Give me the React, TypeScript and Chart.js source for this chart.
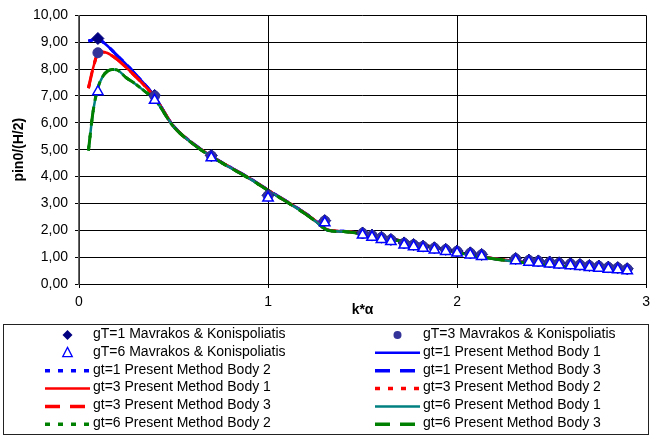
import React, { useEffect, useRef } from 'react';
import { Chart, registerables } from 'chart.js';

Chart.register(...registerables);

// ---- data ----
const MARKER_X = [0.1, 0.4, 0.7, 1.0, 1.3, 1.5, 1.55, 1.6, 1.65, 1.72, 1.77, 1.82, 1.88, 1.94, 2.0, 2.07, 2.13, 2.31, 2.38, 2.43, 2.49, 2.54, 2.6, 2.65, 2.7, 2.75, 2.8, 2.85, 2.9];
const GT1_MK = [9.14, 7.02, 4.78, 3.3, 2.36, 1.9, 1.82, 1.74, 1.66, 1.53, 1.47, 1.41, 1.35, 1.29, 1.23, 1.16, 1.1, 0.95, 0.89, 0.86, 0.82, 0.79, 0.76, 0.73, 0.69, 0.67, 0.63, 0.61, 0.57];
const GT3_MK = [8.61, 7.0, 4.77, 3.29, 2.35, 1.89, 1.81, 1.73, 1.65, 1.52, 1.46, 1.4, 1.34, 1.28, 1.22, 1.15, 1.09, 0.94, 0.88, 0.85, 0.81, 0.78, 0.75, 0.72, 0.68, 0.66, 0.62, 0.6, 0.56];
const GT6_MK = [7.16, 6.84, 4.7, 3.2, 2.28, 1.82, 1.74, 1.66, 1.58, 1.45, 1.39, 1.33, 1.27, 1.21, 1.15, 1.08, 1.02, 0.87, 0.81, 0.78, 0.74, 0.71, 0.68, 0.65, 0.61, 0.59, 0.55, 0.53, 0.49];

const LINE_X = [0.05, 0.075, 0.1, 0.125, 0.15, 0.175, 0.2, 0.25, 0.3, 0.35, 0.4, 0.5, 0.6, 0.7, 0.8, 0.9, 1.0, 1.1, 1.2, 1.25, 1.32, 1.4, 1.5, 1.6, 1.7, 1.8, 1.9, 2.0, 2.1, 2.2, 2.3, 2.4, 2.5, 2.6, 2.7, 2.8, 2.9];
const GT1_LINE = [9.04, 9.1, 9.15, 9.02, 8.87, 8.7, 8.52, 8.18, 7.8, 7.42, 6.98, 5.88, 5.25, 4.76, 4.35, 3.95, 3.5, 3.07, 2.62, 2.36, 2.0, 1.96, 1.87, 1.75, 1.61, 1.48, 1.34, 1.19, 1.05, 0.94, 0.85, 0.77, 0.7, 0.64, 0.58, 0.53, 0.48];
const GT3_LINE = [7.29, 8.05, 8.58, 8.64, 8.6, 8.5, 8.37, 8.06, 7.72, 7.36, 6.96, 5.87, 5.24, 4.75, 4.34, 3.94, 3.49, 3.06, 2.61, 2.35, 2.0, 1.96, 1.87, 1.75, 1.61, 1.48, 1.34, 1.19, 1.05, 0.94, 0.85, 0.77, 0.7, 0.64, 0.58, 0.53, 0.48];
const GT6_LINE = [4.97, 6.45, 7.3, 7.72, 7.92, 7.99, 7.97, 7.68, 7.44, 7.16, 6.88, 5.86, 5.23, 4.74, 4.33, 3.93, 3.48, 3.05, 2.6, 2.34, 1.99, 1.95, 1.86, 1.74, 1.6, 1.47, 1.33, 1.18, 1.04, 0.93, 0.84, 0.76, 0.69, 0.63, 0.57, 0.52, 0.47];

const X_TICKS = [0, 1, 2, 3];
const Y_TICKS = [0, 1, 2, 3, 4, 5, 6, 7, 8, 9, 10];

const LABELS = [
  'gT=1 Mavrakos & Konispoliatis',
  'gT=3 Mavrakos & Konispoliatis',
  'gT=6 Mavrakos & Konispoliatis',
  'gt=1 Present Method Body 1',
  'gt=1 Present Method Body 2',
  'gt=1 Present Method Body 3',
  'gt=3 Present Method Body 1',
  'gt=3 Present Method Body 2',
  'gt=3 Present Method Body 3',
  'gt=6 Present Method Body 1',
  'gt=6 Present Method Body 2',
  'gt=6 Present Method Body 3',
];

const FONT = '"Liberation Sans", Arial, sans-serif';
const DOT = [5, 8];
const DASH = [15, 10];

const pts = (xs: number[], ys: number[]) => xs.map((x, i) => ({ x, y: ys[i] }));

function markerDs(label: string, ys: number[], style: string, r: number, bg: string, bc: string, bw: number, order: number) {
  return {
    label,
    data: pts(MARKER_X, ys),
    showLine: false,
    pointStyle: style,
    pointRadius: r,
    pointBackgroundColor: bg,
    pointBorderColor: bc,
    pointBorderWidth: bw,
    backgroundColor: bg,
    borderColor: bc,
    order,
  };
}

function lineDs(label: string, ys: number[], color: string, dash: number[], width: number, order: number) {
  return {
    label,
    data: pts(LINE_X, ys),
    showLine: true,
    pointRadius: 0,
    borderColor: color,
    backgroundColor: color,
    borderWidth: width,
    borderDash: dash,
    cubicInterpolationMode: 'monotone',
    fill: false,
    order,
  };
}

const legendPlugin = {
  id: 'boxLegend',
  afterDraw(chart: any) {
    const ctx = chart.ctx as CanvasRenderingContext2D;
    ctx.save();
    ctx.strokeStyle = '#222';
    ctx.lineWidth = 1;
    ctx.setLineDash([]);
    ctx.strokeRect(3.5, 324.5, 645, 110);
    ctx.font = '14px ' + FONT;
    ctx.textBaseline = 'middle';
    chart.data.datasets.forEach((d: any, i: number) => {
      const col = i % 2;
      const row = Math.floor(i / 2);
      const ty = 334 + row * 17.85;
      const sy = ty + 1;
      const x0 = col === 0 ? 45 : 375;
      const tx = col === 0 ? 93 : 423;
      if (d.showLine) {
        ctx.beginPath();
        ctx.setLineDash(d.borderDash || []);
        ctx.lineDashOffset = 0;
        ctx.strokeStyle = d.borderColor;
        ctx.lineWidth = d.borderDash && d.borderDash.length ? 3.5 : 2.5;
        ctx.moveTo(x0, sy);
        ctx.lineTo(x0 + 45, sy);
        ctx.stroke();
        ctx.setLineDash([]);
      } else {
        const cx = x0 + 22.5;
        ctx.beginPath();
        if (d.pointStyle === 'rectRot') {
          const r = 5;
          ctx.moveTo(cx, sy - r);
          ctx.lineTo(cx + r, sy);
          ctx.lineTo(cx, sy + r);
          ctx.lineTo(cx - r, sy);
          ctx.closePath();
          ctx.fillStyle = d.pointBackgroundColor;
          ctx.fill();
        } else if (d.pointStyle === 'circle') {
          ctx.arc(cx, sy, 4, 0, Math.PI * 2);
          ctx.fillStyle = d.pointBackgroundColor;
          ctx.fill();
        } else {
          const r = 5.5;
          ctx.moveTo(cx, sy - r);
          ctx.lineTo(cx + r * 0.866, sy + r * 0.5 + 1);
          ctx.lineTo(cx - r * 0.866, sy + r * 0.5 + 1);
          ctx.closePath();
          ctx.fillStyle = '#fff';
          ctx.fill();
          ctx.strokeStyle = d.pointBorderColor;
          ctx.lineWidth = 1.3;
          ctx.stroke();
        }
      }
      ctx.fillStyle = '#000';
      ctx.fillText(d.label, tx, ty);
    });
    ctx.restore();
  },
};

export default function App() {
  const ref = useRef<HTMLCanvasElement | null>(null);
  useEffect(() => {
    document.body.style.margin = '0';
    const canvas = ref.current;
    if (!canvas) return;
    const datasets: any[] = [
      markerDs(LABELS[0], GT1_MK, 'rectRot', 6, '#000080', '#000080', 1, 2),
      markerDs(LABELS[1], GT3_MK, 'circle', 5, '#333399', '#333399', 1, 1),
      markerDs(LABELS[2], GT6_MK, 'triangle', 6, '#ffffff', '#0000ff', 1.5, 0),
      lineDs(LABELS[3], GT1_LINE, '#0000ff', [], 2.5, 11),
      lineDs(LABELS[4], GT1_LINE, '#0000ff', DOT, 3, 10),
      lineDs(LABELS[5], GT1_LINE, '#0000ff', DASH, 3, 9),
      lineDs(LABELS[6], GT3_LINE, '#ff0000', [], 2.5, 8),
      lineDs(LABELS[7], GT3_LINE, '#ff0000', DOT, 3, 7),
      lineDs(LABELS[8], GT3_LINE, '#ff0000', DASH, 3, 6),
      lineDs(LABELS[9], GT6_LINE, '#008080', [], 2.5, 5),
      lineDs(LABELS[10], GT6_LINE, '#008000', DOT, 3, 4),
      lineDs(LABELS[11], GT6_LINE, '#008000', DASH, 3, 3),
    ];
    const chart = new Chart(canvas, {
      type: 'scatter',
      data: { datasets },
      options: {
        animation: false,
        responsive: false,
        devicePixelRatio: 1,
        layout: { padding: { left: 0, right: 0, top: 14, bottom: 112 } },
        plugins: { legend: { display: false }, tooltip: { enabled: false } },
        scales: {
          x: {
            type: 'linear',
            min: 0,
            max: 3,
            afterFit: (s: any) => { s.height = 40; },
            afterBuildTicks: (s: any) => { s.ticks = X_TICKS.map((v) => ({ value: v })); },
            ticks: {
              color: '#000',
              font: { family: FONT, size: 14 },
              padding: 6,
              maxRotation: 0,
              callback: (v: any) => String(v),
            },
            grid: { color: '#000', lineWidth: 1, tickLength: 4, drawTicks: true },
            border: { color: '#000', width: 1 },
            title: {
              display: true,
              text: 'k*α',
              color: '#000',
              font: { family: FONT, size: 14, weight: 'bold' },
              padding: { top: 0, bottom: 5 },
            },
          },
          y: {
            type: 'linear',
            min: 0,
            max: 10,
            afterFit: (s: any) => { s.width = 79; },
            afterBuildTicks: (s: any) => { s.ticks = Y_TICKS.map((v) => ({ value: v })); },
            ticks: {
              color: '#000',
              font: { family: FONT, size: 14 },
              padding: 7,
              callback: (v: any) => Number(v).toFixed(2).replace('.', ','),
            },
            grid: { color: '#000', lineWidth: 1, tickLength: 4, drawTicks: true },
            border: { color: '#666', width: 1.5 },
            title: {
              display: true,
              text: 'pin0/(H/2)',
              color: '#000',
              font: { family: FONT, size: 14, weight: 'bold' },
              padding: { top: 11, bottom: 0 },
            },
          },
        },
      },
      plugins: [legendPlugin],
    } as any);
    return () => chart.destroy();
  }, []);
  return (
    <div style={{ width: 652, height: 436, overflow: 'hidden' }}>
      <canvas ref={ref} width={656} height={436} style={{ display: 'block', width: 656, height: 436 }} />
    </div>
  );
}
